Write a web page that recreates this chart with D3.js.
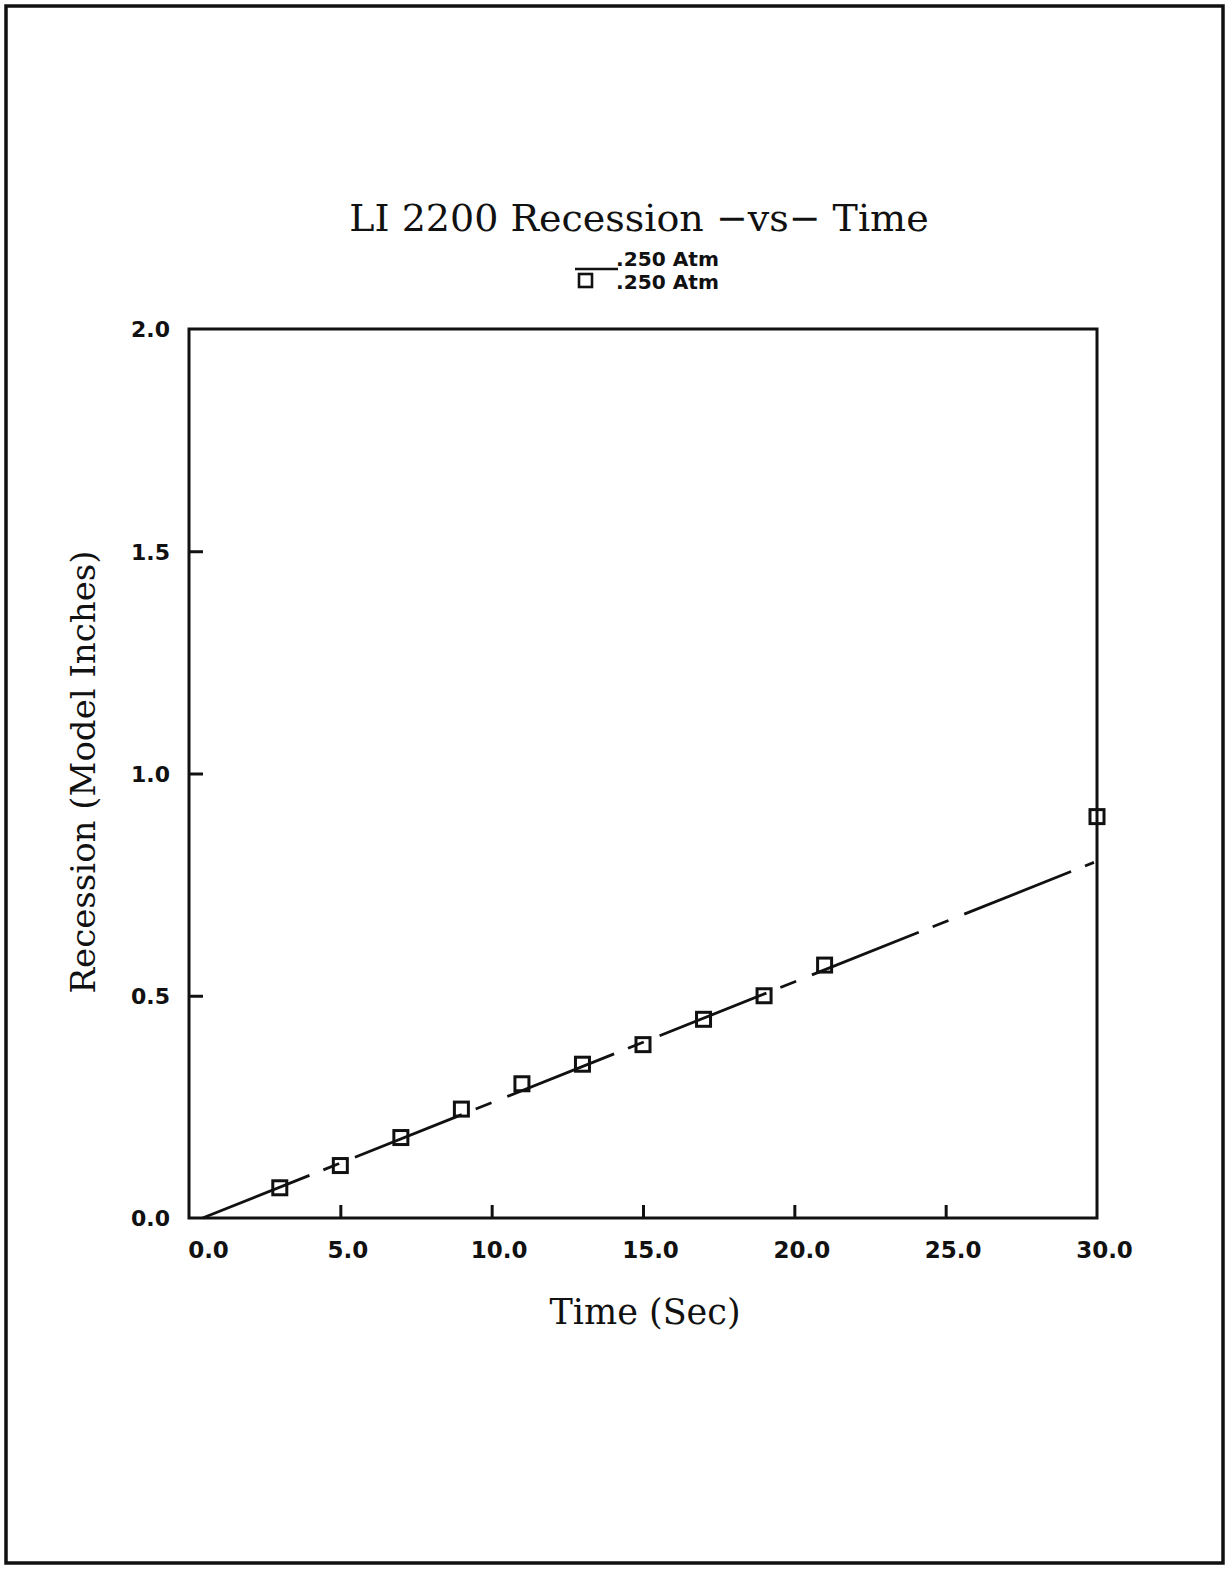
<!DOCTYPE html>
<html>
<head>
<meta charset="utf-8">
<script src="https://cdn.jsdelivr.net/npm/d3@7"></script>
<style>
  html, body { margin: 0; padding: 0; background: #fff; }
  svg { display: block; }
</style>
</head>
<body>
<svg id="chart" width="1229" height="1569"></svg>
<script>
// Measured recession of the LI 2200 sample at 0.250 Atm
const timeSec   = [3, 5, 7, 9, 11, 13, 15, 17, 19, 21, 30];
const recession = [0.068, 0.118, 0.181, 0.245, 0.302, 0.346, 0.39, 0.447, 0.5, 0.569, 0.903];

// Straight-line fit through the measurements (end points)
const fitTime      = [0.45, 29.9];
const fitRecession = [0, 0.80];

const xTicks = [0, 5, 10, 15, 20, 25, 30];
const yTicks = [0, 0.5, 1.0, 1.5, 2.0];

const titleText  = "LI 2200 Recession \u2212vs\u2212 Time";
const legendText = [".250 Atm", ".250 Atm"];
const xTitle = "Time (Sec)";
const yTitle = "Recession (Model Inches)";

const plot = { left: 189, right: 1097, top: 329, bottom: 1218 };

const svg = d3.select("#chart");
const ink = "#111";

// page frame
svg.append("rect")
  .attr("x", 6).attr("y", 6)
  .attr("width", 1217).attr("height", 1557)
  .attr("fill", "none").attr("stroke", ink).attr("stroke-width", 3.5);

const x = d3.scaleLinear().domain([0, 30]).range([plot.left, plot.right]);
const y = d3.scaleLinear().domain([0, 2]).range([plot.bottom, plot.top]);

// plot box
svg.append("rect")
  .attr("x", plot.left).attr("y", plot.top)
  .attr("width", plot.right - plot.left).attr("height", plot.bottom - plot.top)
  .attr("fill", "none").attr("stroke", ink).attr("stroke-width", 3);

// x axis: inward ticks, bold labels below
const xAxis = svg.append("g")
  .attr("transform", `translate(0,${plot.bottom})`)
  .call(d3.axisBottom(x).tickValues(xTicks).tickSizeInner(-13).tickSizeOuter(0)
        .tickFormat(d3.format(".1f")));
xAxis.select(".domain").remove();
xAxis.selectAll(".tick line")
  .attr("stroke", ink).attr("stroke-width", 3)
  .attr("display", d => (d === 0 || d === 30) ? "none" : null);
xAxis.selectAll(".tick text")
  .attr("y", 0).attr("dy", 0)
  .attr("transform", d => `translate(${d === 0 ? 19 : 7},40)`)
  .attr("fill", ink)
  .attr("font-family", "'DejaVu Sans', sans-serif")
  .attr("font-weight", "bold")
  .attr("font-size", 23);

// y axis: inward ticks, bold labels left
const yAxis = svg.append("g")
  .attr("transform", `translate(${plot.left},0)`)
  .call(d3.axisLeft(y).tickValues(yTicks).tickSizeInner(-14).tickSizeOuter(0)
        .tickFormat(d3.format(".1f")));
yAxis.select(".domain").remove();
yAxis.selectAll(".tick line")
  .attr("stroke", ink).attr("stroke-width", 3)
  .attr("display", d => (d === 0 || d === 2) ? "none" : null);
yAxis.selectAll(".tick text")
  .attr("x", -19).attr("dy", "0.36em")
  .attr("fill", ink)
  .attr("font-family", "'DejaVu Sans', sans-serif")
  .attr("font-weight", "bold")
  .attr("font-size", 22);

// fitted line, drawn with the plotter's long-dash pattern
const fitPts = fitTime.map((t, i) => [t, fitRecession[i]]);
svg.append("path")
  .datum(fitPts)
  .attr("d", d3.line().x(d => x(d[0])).y(d => y(d[1])))
  .attr("fill", "none").attr("stroke", ink).attr("stroke-width", 2.8)
  .attr("stroke-dasharray", "115,15,17,17");

// measured points as open squares
const sq = 14;
const pts = timeSec.map((t, i) => [t, recession[i]]);
svg.append("g").selectAll("rect")
  .data(pts).join("rect")
  .attr("x", d => x(d[0]) - sq / 2)
  .attr("y", d => y(d[1]) - sq / 2)
  .attr("width", sq).attr("height", sq)
  .attr("fill", "none").attr("stroke", ink).attr("stroke-width", 3);

// title
svg.append("text")
  .attr("x", 639).attr("y", 231)
  .attr("text-anchor", "middle")
  .attr("font-family", "'DejaVu Serif', serif")
  .attr("font-size", 38)
  .attr("fill", ink)
  .text(titleText);

// legend: line sample and square sample
const legX = 616;
svg.append("line")
  .attr("x1", 575).attr("x2", 618).attr("y1", 269).attr("y2", 269)
  .attr("stroke", ink).attr("stroke-width", 2.4);
svg.append("rect")
  .attr("x", 579).attr("y", 274).attr("width", 13).attr("height", 13)
  .attr("fill", "none").attr("stroke", ink).attr("stroke-width", 2.6);
svg.selectAll(".leg").data(legendText).join("text")
  .attr("class", "leg")
  .attr("x", legX)
  .attr("y", (d, i) => 266 + i * 23)
  .attr("font-family", "'DejaVu Sans', sans-serif")
  .attr("font-weight", "bold")
  .attr("font-size", 19)
  .attr("textLength", 103)
  .attr("lengthAdjust", "spacingAndGlyphs")
  .attr("fill", ink)
  .text(d => d);

// axis titles
svg.append("text")
  .attr("x", 645).attr("y", 1324)
  .attr("text-anchor", "middle")
  .attr("font-family", "'DejaVu Serif', serif")
  .attr("font-size", 35)
  .attr("fill", ink)
  .text(xTitle);

svg.append("text")
  .attr("transform", `translate(95,772) rotate(-90)`)
  .attr("text-anchor", "middle")
  .attr("font-family", "'DejaVu Serif', serif")
  .attr("font-size", 34)
  .attr("fill", ink)
  .text(yTitle);
</script>
</body>
</html>
